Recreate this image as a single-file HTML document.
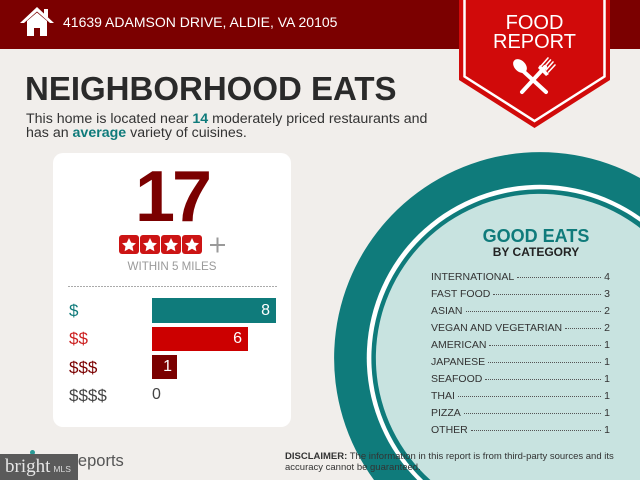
<!DOCTYPE html>
<html><head><meta charset="utf-8">
<style>
html,body{margin:0;padding:0;}
body{width:640px;height:480px;position:relative;overflow:hidden;background:#f1eeeb;font-family:"Liberation Sans",sans-serif;}
.abs{position:absolute;white-space:nowrap;}
#hdr{left:0;top:0;width:640px;height:49px;background:#7b0000;}
.list{position:absolute;left:431px;top:268.5px;width:179px;font-size:10.5px;color:#333;}
.row{display:flex;align-items:baseline;height:17.1px;line-height:17.1px;}
.row .ld{flex:1;border-bottom:1px dotted #555;margin:0 3px 0 3px;transform:translateY(-2px);}
</style></head><body>
<div id="hdr" class="abs"></div>
<svg class="abs" style="left:0;top:0" width="640" height="480">
  <g fill="#fff">
    <path d="M37 7 L20 23 L24 23 L37 11.5 L50 23 L54 23 Z"/>
    <rect x="44" y="9" width="4" height="8"/>
    <path d="M27 21 L37 12.5 L47 21 L47 36 L40 36 L40 28 L34 28 L34 36 L27 36 Z"/>
  </g>
  <path d="M374 480 A206 206 0 0 1 640 178 L640 480 Z" fill="#0f7b7b"/>
  <path d="M417.3 480 A173 173 0 0 1 640 216.8 L640 480 Z" fill="#ffffff"/>
  <path d="M423.1 480 A169 169 0 0 1 640 221.8 L640 480 Z" fill="#0f7b7b"/>
  <path d="M430.4 480 A164 164 0 0 1 640 228 L640 480 Z" fill="#c8e3e0"/>
  <polygon points="459,0 610,0 610,80 534.5,128 459,80" fill="#d10a0a"/>
  <polyline points="464.5,0 464.5,76.5 534.5,121 604.5,76.5 604.5,0" fill="none" stroke="#fff" stroke-width="2.5"/>
  <g stroke="#fff" stroke-linecap="round" fill="#fff">
    <line x1="522" y1="70" x2="546" y2="92" stroke-width="4"/>
    <ellipse cx="520" cy="66" rx="5.5" ry="8" transform="rotate(-45 520 66)" stroke="none"/>
    <line x1="545" y1="67" x2="522" y2="92" stroke-width="4"/>
    <path d="M541 66 L548 58 M543.5 68 L550.5 60 M546 70 L553 62 M548.5 72 L555 65" stroke-width="1.6"/>
    <path d="M540 65 L549 74 L546 76 L538 68 Z" stroke="none"/>
  </g>
</svg>
<div class="abs" style="left:63px;top:15px;font-size:14px;line-height:14px;color:#fff;">41639 ADAMSON DRIVE, ALDIE, VA 20105</div>
<div class="abs" style="left:459px;top:13px;width:151px;text-align:center;font-size:20px;line-height:20px;color:#fff;">FOOD</div>
<div class="abs" style="left:459px;top:32px;width:151px;text-align:center;font-size:20px;line-height:20px;color:#fff;">REPORT</div>

<div class="abs" style="left:25px;top:71.5px;font-size:33px;line-height:33px;font-weight:bold;color:#2a2a2a;">NEIGHBORHOOD EATS</div>
<div class="abs" style="left:26px;top:112px;font-size:14.2px;line-height:14px;color:#333;">This home is located near <b style="color:#0f7b7b">14</b> moderately priced restaurants and<br>has an <b style="color:#0f7b7b">average</b> variety of cuisines.</div>

<div class="abs" style="left:53px;top:153px;width:238px;height:274px;background:#fff;border-radius:10px;"></div>
<div class="abs" style="left:72px;top:161px;width:200px;text-align:center;font-size:72px;line-height:72px;font-weight:bold;color:#7b0000;letter-spacing:-3px;">17</div>
<svg class="abs" style="left:0;top:0" width="640" height="480">
  <g>
    <rect x="119" y="235" width="20" height="19" rx="3" fill="#cc1414"/>
    <rect x="140" y="235" width="20" height="19" rx="3" fill="#cc1414"/>
    <rect x="161" y="235" width="20" height="19" rx="3" fill="#cc1414"/>
    <rect x="182" y="235" width="20" height="19" rx="3" fill="#cc1414"/>
    <g fill="#fff">
      <polygon points="129,238 131.2,242.6 136,243.2 132.5,246.4 133.4,251.2 129,248.8 124.6,251.2 125.5,246.4 122,243.2 126.8,242.6"/>
      <polygon points="150,238 152.2,242.6 157,243.2 153.5,246.4 154.4,251.2 150,248.8 145.6,251.2 146.5,246.4 143,243.2 147.8,242.6"/>
      <polygon points="171,238 173.2,242.6 178,243.2 174.5,246.4 175.4,251.2 171,248.8 166.6,251.2 167.5,246.4 164,243.2 168.8,242.6"/>
      <polygon points="192,238 194.2,242.6 199,243.2 195.5,246.4 196.4,251.2 192,248.8 187.6,251.2 188.5,246.4 185,243.2 189.8,242.6"/>
    </g>
    <path d="M210 245 L225 245 M217.5 237.5 L217.5 252.5" stroke="#9a9a9a" stroke-width="2"/>
  </g>
  <line x1="68" y1="286.5" x2="277" y2="286.5" stroke="#aaa" stroke-width="1" stroke-dasharray="2,1"/>
  <rect x="152" y="298" width="124" height="25" fill="#0f7b7b"/>
  <rect x="152" y="327" width="96" height="24" fill="#cc0000"/>
  <rect x="152" y="355" width="25" height="24" fill="#7b0000"/>
</svg>
<div class="abs" style="left:72px;top:261px;width:200px;text-align:center;font-size:11.6px;line-height:12px;color:#9a9a9a;">WITHIN 5 MILES</div>
<div class="abs" style="left:69px;top:301.5px;font-size:17px;line-height:17px;color:#0f7b7b;">$</div>
<div class="abs" style="left:69px;top:329.5px;font-size:17px;line-height:17px;color:#cc1f1f;">$$</div>
<div class="abs" style="left:69px;top:358.5px;font-size:17px;line-height:17px;color:#7b0000;">$$$</div>
<div class="abs" style="left:69px;top:386.5px;font-size:17px;line-height:17px;color:#444;">$$$$</div>
<div class="abs" style="left:152px;top:302.5px;width:118px;text-align:right;font-size:16px;line-height:16px;color:#fff;">8</div>
<div class="abs" style="left:152px;top:331px;width:90px;text-align:right;font-size:16px;line-height:16px;color:#fff;">6</div>
<div class="abs" style="left:152px;top:359px;width:20px;text-align:right;font-size:16px;line-height:16px;color:#fff;">1</div>
<div class="abs" style="left:152px;top:387px;font-size:16px;line-height:16px;color:#444;">0</div>

<div class="abs" style="left:436px;top:227px;width:200px;text-align:center;font-size:18px;line-height:18px;font-weight:bold;color:#0f7b7b;">GOOD EATS</div>
<div class="abs" style="left:436px;top:246px;width:200px;text-align:center;font-size:12px;line-height:12px;font-weight:bold;color:#222;">BY CATEGORY</div>
<div class="list">
  <div class="row"><span>INTERNATIONAL</span><span class="ld"></span><span>4</span></div>
  <div class="row"><span>FAST FOOD</span><span class="ld"></span><span>3</span></div>
  <div class="row"><span>ASIAN</span><span class="ld"></span><span>2</span></div>
  <div class="row"><span>VEGAN AND VEGETARIAN</span><span class="ld"></span><span>2</span></div>
  <div class="row"><span>AMERICAN</span><span class="ld"></span><span>1</span></div>
  <div class="row"><span>JAPANESE</span><span class="ld"></span><span>1</span></div>
  <div class="row"><span>SEAFOOD</span><span class="ld"></span><span>1</span></div>
  <div class="row"><span>THAI</span><span class="ld"></span><span>1</span></div>
  <div class="row"><span>PIZZA</span><span class="ld"></span><span>1</span></div>
  <div class="row"><span>OTHER</span><span class="ld"></span><span>1</span></div>
</div>

<div class="abs" style="left:285px;top:450.5px;font-size:9.5px;line-height:11px;color:#333;"><b>DISCLAIMER:</b> The information in this report is from third-party sources and its<br>accuracy cannot be guaranteed.</div>

<div class="abs" style="left:30px;top:450px;width:5px;height:5px;border-radius:3px;background:#2a9a96;"></div>
<div class="abs" style="left:66px;top:453px;font-size:16.5px;line-height:16.5px;color:#555;">Reports</div>
<div class="abs" style="left:0;top:454px;width:78px;height:26px;background:#5a5a5a;"></div>
<div class="abs" style="left:5px;top:457px;height:19px;font-family:'Liberation Serif',serif;font-size:19px;line-height:19px;color:#e6e6e6;">bright<span style="font-family:'Liberation Sans',sans-serif;font-size:8.5px;color:#ddd;margin-left:3px;">MLS</span></div>
</body></html>
